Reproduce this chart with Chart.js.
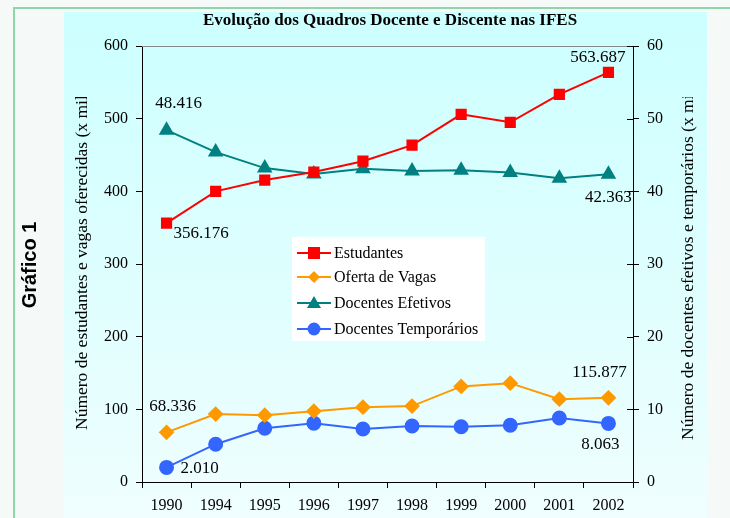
<!DOCTYPE html>
<html><head><meta charset="utf-8">
<script src="https://cdn.jsdelivr.net/npm/chart.js@4/dist/chart.umd.min.js"></script>
<style>html,body{margin:0;padding:0;background:#f5f9f7;}canvas{display:block;}</style>
</head><body>
<canvas id="c" width="730" height="518"></canvas>
<script>
const categories = ['1990','1994','1995','1996','1997','1998','1999','2000','2001','2002'];
const estudantes = [356.176, 400, 415.5, 426.5, 441.5, 463.5, 506, 495, 533.5, 563.687];
const ofertaVagas = [68.336, 93.5, 92, 97.5, 103, 104.5, 131.5, 136, 114, 115.877];
const docentesEfetivos = [48.416, 45.4, 43.2, 42.4, 43.1, 42.8, 42.9, 42.6, 41.8, 42.363];
const docentesTemporarios = [2.010, 5.2, 7.4, 8.1, 7.3, 7.7, 7.6, 7.8, 8.8, 8.063];
const seriesNames = ['Estudantes','Oferta de Vagas','Docentes Efetivos','Docentes Temporários'];
const leftTicks = [0,100,200,300,400,500,600];
const rightTicks = [0,10,20,30,40,50,60];
const titleText = 'Evolução dos Quadros Docente e Discente nas IFES';
const leftTitle = 'Número de estudantes e vagas oferecidas (x mil)';
const rightTitle = 'Número de docentes efetivos e temporários (x mil)';
const sideLabel = 'Gráfico 1';
// labels: [datasetIndex, pointIndex, text, dx, dy, align]
const pointLabels = [
  [0,0,'356.176',7,10,'left'],
  [0,9,'563.687',17,-15,'right'],
  [1,0,'68.336',6,-26,'center'],
  [1,9,'115.877',-9,-25,'center'],
  [2,0,'48.416',12,-27,'center'],
  [2,9,'42.363',0,23,'center'],
  [3,0,'2.010',14,1,'left'],
  [3,9,'8.063',-8,21,'center']
];

const SERIF = '"Liberation Serif", "Times New Roman", serif';

const decor = {
  id:'decor',
  beforeDraw(chart){
    const ctx = chart.ctx;
    ctx.save();
    ctx.fillStyle = '#f5f9f7';
    ctx.fillRect(0,0,730,518);
    const g = ctx.createLinearGradient(0,12,0,518);
    g.addColorStop(0,'#ccffff');
    g.addColorStop(1,'#f0fefe');
    ctx.fillStyle = g;
    ctx.fillRect(64,12,643,506);
    ctx.strokeStyle = '#8fd6a8';
    ctx.lineWidth = 2;
    ctx.beginPath();
    ctx.moveTo(14,518); ctx.lineTo(14,8); ctx.lineTo(730,8);
    ctx.stroke();
    ctx.restore();
  },
  afterDraw(chart){
    const ctx = chart.ctx;
    const a = chart.chartArea;
    ctx.save();
    // top border line
    ctx.strokeStyle = '#888888';
    ctx.lineWidth = 1;
    ctx.beginPath(); ctx.moveTo(a.left, a.top+0.5); ctx.lineTo(a.right, a.top+0.5); ctx.stroke();
    // inner part of right ticks
    const y1 = chart.scales.y1;
    ctx.strokeStyle = '#000';
    rightTicks.forEach(v=>{
      const py = Math.round(y1.getPixelForValue(v))+0.5;
      ctx.beginPath(); ctx.moveTo(a.right-6, py); ctx.lineTo(a.right, py); ctx.stroke();
    });
    // title
    ctx.fillStyle = '#000';
    ctx.font = 'bold 17px ' + SERIF;
    ctx.textAlign = 'center'; ctx.textBaseline = 'middle';
    ctx.fillText(titleText, 390, 21);
    // axis titles
    ctx.font = '17.5px ' + SERIF;
    ctx.save();
    ctx.beginPath(); ctx.rect(0,97,730,421); ctx.clip();
    ctx.textAlign = 'left';
    ctx.save(); ctx.translate(82, 430); ctx.rotate(-Math.PI/2);
    ctx.fillText(leftTitle, 0, 0); ctx.restore();
    ctx.save(); ctx.translate(688, 440); ctx.rotate(-Math.PI/2);
    ctx.fillText(rightTitle, 0, 0); ctx.restore();
    ctx.restore();
    ctx.textAlign = 'center';
    // side label
    ctx.save(); ctx.translate(30, 265); ctx.rotate(-Math.PI/2);
    ctx.font = 'bold 20px "Liberation Sans", Arial, sans-serif';
    ctx.fillText(sideLabel, 0, 0); ctx.restore();
    // point labels
    ctx.font = '17px ' + SERIF;
    pointLabels.forEach(([d,i,t,dx,dy,al])=>{
      const p = chart.getDatasetMeta(d).data[i];
      ctx.textAlign = al;
      ctx.fillText(t, p.x+dx, p.y+dy);
    });
    // legend
    const lx=292, ly=237, lw=193, lh=104;
    ctx.fillStyle = '#ffffff';
    ctx.fillRect(lx,ly,lw,lh);
    ctx.font = '16px ' + SERIF;
    const rows=[253,277,303,329];
    chart.data.datasets.forEach((ds,k)=>{
      const y = rows[k];
      ctx.strokeStyle = ds.borderColor; ctx.lineWidth = 2;
      ctx.beginPath(); ctx.moveTo(297,y); ctx.lineTo(331,y); ctx.stroke();
      ctx.fillStyle = ds.pointBackgroundColor;
      const cx=314;
      ctx.beginPath();
      if(ds.pointStyle==='rect'){ ctx.rect(cx-6,y-6,12,12); }
      else if(ds.pointStyle==='rectRot'){ ctx.moveTo(cx,y-6);ctx.lineTo(cx+6,y);ctx.lineTo(cx,y+6);ctx.lineTo(cx-6,y);ctx.closePath(); }
      else if(ds.pointStyle==='triangle'){ ctx.moveTo(cx,y-7);ctx.lineTo(cx+7,y+5);ctx.lineTo(cx-7,y+5);ctx.closePath(); }
      else { ctx.arc(cx,y,6.5,0,Math.PI*2); }
      ctx.fill();
      ctx.fillStyle = '#000';
      ctx.textAlign='left'; ctx.textBaseline='middle';
      ctx.fillText(ds.label, 334, y+1);
    });
    ctx.restore();
  }
};

const axisCommon = {
  border:{color:'#000', width:1},
  grid:{drawOnChartArea:false, drawTicks:true, tickLength:6, color:'#000'},
  ticks:{color:'#000', font:{family:SERIF, size:16}, padding:8}
};

new Chart(document.getElementById('c'), {
  type:'line',
  data:{
    labels: categories,
    datasets:[
      {label:seriesNames[0], data:estudantes, yAxisID:'y', borderColor:'#ff0000', backgroundColor:'#ff0000', pointBackgroundColor:'#ff0000', pointBorderColor:'#ff0000', pointStyle:'rect', pointRadius:6.5, borderWidth:2},
      {label:seriesNames[1], data:ofertaVagas, yAxisID:'y', borderColor:'#ff9900', backgroundColor:'#ff9900', pointBackgroundColor:'#ff9900', pointBorderColor:'#ff9900', pointStyle:'rectRot', pointRadius:6.5, borderWidth:2},
      {label:seriesNames[2], data:docentesEfetivos, yAxisID:'y1', borderColor:'#008080', backgroundColor:'#008080', pointBackgroundColor:'#008080', pointBorderColor:'#008080', pointStyle:'triangle', pointRadius:7, borderWidth:2},
      {label:seriesNames[3], data:docentesTemporarios, yAxisID:'y1', borderColor:'#3366ff', backgroundColor:'#3366ff', pointBackgroundColor:'#3366ff', pointBorderColor:'#3366ff', pointStyle:'circle', pointRadius:6.5, borderWidth:2}
    ]
  },
  options:{
    responsive:false, animation:false, devicePixelRatio:1,
    layout:{padding:{top:46,left:0,right:0,bottom:0}},
    plugins:{legend:{display:false}, title:{display:false}, tooltip:{enabled:false}},
    scales:{
      x:{
        offset:true,
        border:{color:'#000', width:1},
        grid:{offset:true, drawOnChartArea:false, drawTicks:true, tickLength:6, color:'#000'},
        ticks:{color:'#000', font:{family:SERIF, size:16}, padding:8, maxRotation:0, autoSkip:false},
        afterFit(s){ s.height = 36; }
      },
      y:{
        ...axisCommon, position:'left', min:0, max:600,
        ticks:{...axisCommon.ticks, stepSize:100},
        afterBuildTicks(s){ s.ticks = leftTicks.map(v=>({value:v})); },
        afterFit(s){ s.width = 142; }
      },
      y1:{
        ...axisCommon, position:'right', min:0, max:60,
        ticks:{...axisCommon.ticks, stepSize:10},
        afterBuildTicks(s){ s.ticks = rightTicks.map(v=>({value:v})); },
        afterFit(s){ s.width = 97; }
      }
    }
  },
  plugins:[decor]
});
</script>
</body></html>
